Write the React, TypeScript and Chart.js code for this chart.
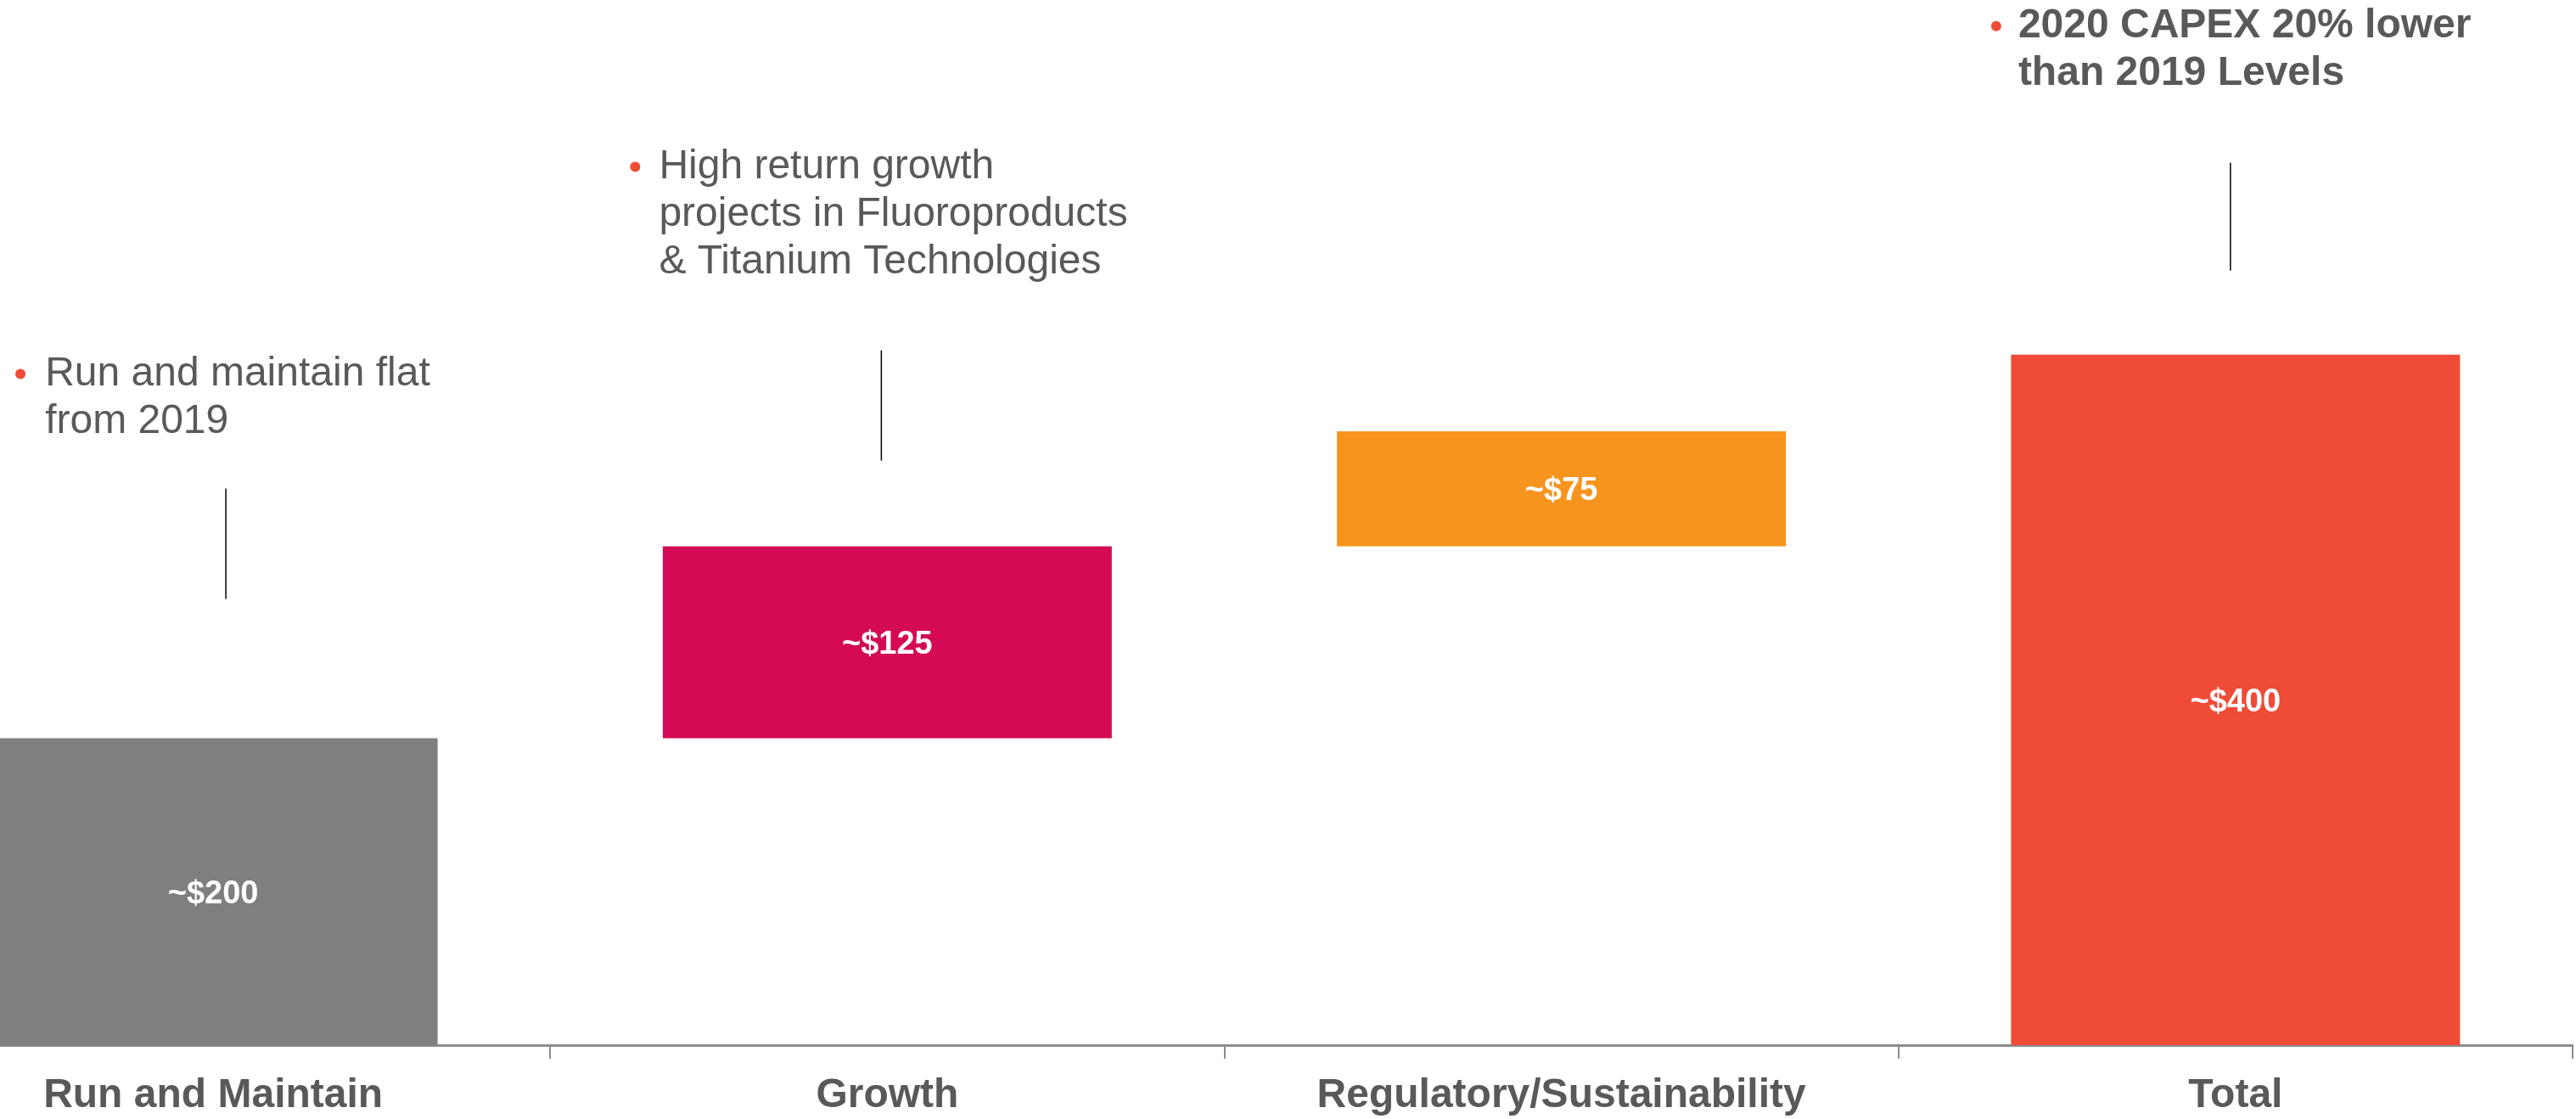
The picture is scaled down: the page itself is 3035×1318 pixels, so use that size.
import React, { useEffect, useRef } from "react";
import { Chart, registerables } from "chart.js";

Chart.register(...registerables);

// ---- data ----
const categories = ["Run and Maintain", "Growth", "Regulatory/Sustainability", "Total"];
const barStarts = [0, 200, 325, 0];
const barEnds = [200, 325, 400, 450];
const valueLabels = ["~$200", "~$125", "~$75", "~$400"];
const barColors = ["#7F7F7F", "#D40B54", "#F7941E", "#F04B37"];
const noteRun = ["Run and maintain flat", "from 2019"];
const noteGrowth = ["High return growth", "projects in Fluoroproducts", "& Titanium Technologies"];
const noteTotal = ["2020 CAPEX 20% lower", "than 2019 Levels"];

// ---- layout of callouts (offsets relative to bar centre / bar top) ----
const noteLayout = [
  { index: 0, lines: noteRun, bold: false, bulletDx: -227, textDx: -198, firstDy: -429, lineDx: 15, lineTopDy: -294, lineBotDy: -164 },
  { index: 1, lines: noteGrowth, bold: false, bulletDx: -297, textDx: -269, firstDy: -447, lineDx: -7, lineTopDy: -231, lineBotDy: -101 },
  { index: 3, lines: noteTotal, bold: true, bulletDx: -282, textDx: -256, firstDy: -387, lineDx: -6, lineTopDy: -226, lineBotDy: -99 },
];

const FONT = "'Liberation Sans', Arial, Helvetica, sans-serif";
const TEXT_GRAY = "#595959";
const LEFT_SHIFT = 146;
const W = 3035 + LEFT_SHIFT;
const H = 1318;

const overlayPlugin = {
  id: "overlay",
  afterDatasetsDraw(chart: any) {
    const ctx = chart.ctx as CanvasRenderingContext2D;
    const meta = chart.getDatasetMeta(0);
    ctx.save();
    // value labels inside bars
    meta.data.forEach((bar: any, i: number) => {
      const p = bar.getProps(["x", "y", "base"], true);
      ctx.fillStyle = "#FFFFFF";
      ctx.font = `bold 38px ${FONT}`;
      ctx.textAlign = "center";
      ctx.textBaseline = "middle";
      ctx.fillText(valueLabels[i], p.x, (p.y + p.base) / 2 + 3);
    });
    // callouts
    noteLayout.forEach((n) => {
      const p = meta.data[n.index].getProps(["x", "y", "base"], true);
      const top = Math.min(p.y, p.base);
      // connector line
      ctx.strokeStyle = "#000000";
      ctx.lineWidth = 1.5;
      ctx.beginPath();
      ctx.moveTo(p.x + n.lineDx, top + n.lineTopDy);
      ctx.lineTo(p.x + n.lineDx, top + n.lineBotDy);
      ctx.stroke();
      // bullet
      ctx.fillStyle = "#F04B37";
      ctx.beginPath();
      ctx.arc(p.x + n.bulletDx, top + n.firstDy, 6, 0, Math.PI * 2);
      ctx.fill();
      // text
      ctx.fillStyle = TEXT_GRAY;
      ctx.font = `${n.bold ? "bold " : ""}48px ${FONT}`;
      ctx.textAlign = "left";
      ctx.textBaseline = "middle";
      n.lines.forEach((line, k) => {
        ctx.fillText(line, p.x + n.textDx, top + n.firstDy + k * 56);
      });
    });
    ctx.restore();
  },
};

export default function App() {
  const canvasRef = useRef<HTMLCanvasElement | null>(null);

  useEffect(() => {
    if (!canvasRef.current) return;
    const chart = new Chart(canvasRef.current, {
      type: "bar",
      data: {
        labels: categories,
        datasets: [
          {
            data: barStarts.map((s, i) => [s, barEnds[i]]) as any,
            backgroundColor: barColors,
            borderWidth: 0,
            borderSkipped: false,
            barPercentage: 0.666,
            categoryPercentage: 1,
          },
        ],
      },
      options: {
        animation: false,
        responsive: false,
        devicePixelRatio: 1,
        layout: { padding: { left: 0, right: 4, top: 2, bottom: 0 } },
        plugins: { legend: { display: false }, tooltip: { enabled: false } },
        scales: {
          x: {
            offset: true,
            grid: {
              offset: true,
              drawOnChartArea: false,
              drawTicks: true,
              tickLength: 16,
              color: "#8C8C8C",
              lineWidth: 2,
            },
            border: { display: true, color: "#8C8C8C", width: 3 },
            ticks: {
              color: TEXT_GRAY,
              font: { family: FONT, size: 48, weight: "bold" },
              padding: 15,
              maxRotation: 0,
              autoSkip: false,
            },
            afterFit: (scale: any) => {
              scale.height = 87;
            },
          },
          y: { display: false, min: 0, max: 680 },
        },
      },
      plugins: [overlayPlugin],
    });
    return () => chart.destroy();
  }, []);

  return (
    <div style={{ position: "absolute", left: -LEFT_SHIFT, top: 0, width: W, height: H, background: "#fff" }}>
      <canvas ref={canvasRef} width={W} height={H} style={{ width: W, height: H, display: "block" }} />
    </div>
  );
}
